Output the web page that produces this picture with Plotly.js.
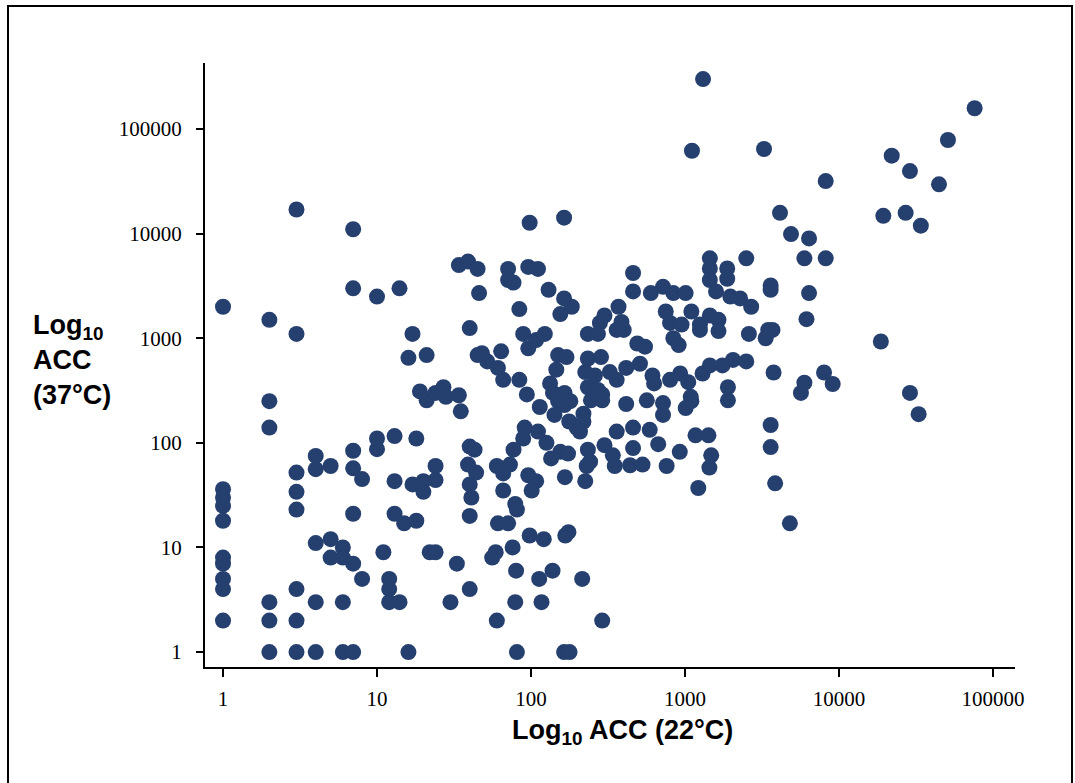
<!DOCTYPE html>
<html>
<head>
<meta charset="utf-8">
<script src="https://cdn.plot.ly/plotly-3.0.1.min.js"></script>
<style>
  html, body { margin: 0; padding: 0; background: #fff; }
  #chart { width: 1075px; height: 783px; }
</style>
</head>
<body>
<div id="chart"></div>
<script>
// ACC at 22°C (x) and 37°C (y)
const acc22 = [
  // x = 1 .. 3 columns
  1,1,1,1,1,1,1,1,1,1,
  2,2,2,2,2,2,
  3,3,3,3,3,3,3,3,
  // low left cluster
  4,4,4,4,4,5,5,5,6,6,6,6,7,7,7,7,7,7,8,8,
  10,10,14,13,17,20,20,24,24,39,40,41,40,44,
  13,15,18,11,22,24,33,12,12,12,14,30,40,16,
  // upper-left group
  17,16,21,40,45,19,21,24,27,28,34,35,10,7,13,18,40,43,46,
  34,39,45,
  // core
  71,96,111,71,77,130,164,184,155,84,460,460,600,720,840,1010,1450,1880,1450,1880,
  1590,1970,2280,370,300,387,280,360,400,234,272,750,1100,800,950,1250,1450,1650,1250,1650,
  840,910,490,550,2600,89,108,123,96,48,64,52,61,66,84,150,170,146,133,94,
  114,139,165,150,165,180,142,177,198,219,219,208,234,285,225,260,325,360,415,510,
  234,272,290,245,290,415,565,615,630,720,720,800,930,1050,1090,1100,1010,1300,1450,1750,
  2050,2500,1900,1900,91,111,126,89,360,460,590,670,460,300,340,234,242,155,174,135,
  77,60,73,66,925,1170,1420,1480,440,530,760,350,230,1440,
  // lower core
  96,108,101,66,166,225,1220,79,81,61,71,98,121,167,175,76,56,59,80,113,
  138,215,79,117,60,290,81,164,178,
  // top and right
  98,164,1310,1110,1450,2500,
  76000,51000,3260,22000,28900,44600,8200,4140,19400,27100,34000,4880,6390,5960,8200,
  3600,3600,6390,2690,6150,3470,3700,3340,18700,3760,8000,9100,5960,5660,28900,32900,3600,3600,
  3850,4800
];
const acc37 = [
  2000,36,30,25,18,8,7,5,4,2,
  1500,250,140,3,2,1,
  17000,1100,52,34,23,4,2,1,
  75,56,11,3,1,60,12,8,10,8,3,1,7,1,21,57,84,11000,5,45,
  2500,110,3000,43,40,43,34,44,60,62,40,30,20,52,
  21,17,18,9,9,9,7,5,4,3,3,3,4,1,
  1100,650,690,1250,690,310,255,300,340,275,285,200,87,3000,116,110,92,86,2700,
  5000,5400,4600,
  4600,4800,4600,3600,3400,2900,2400,2000,1700,1900,4200,2800,2700,3100,2700,2700,4650,4650,3600,3700,
  2800,2500,2400,2000,1650,1430,1400,1200,1200,1100,1100,1800,1800,1400,1350,1350,1650,1500,1200,1170,
  1000,860,890,830,1100,1100,960,1100,800,720,750,600,520,400,400,690,660,500,370,290,
  220,300,300,250,230,250,185,160,140,190,160,128,640,660,475,440,475,400,520,570,
  340,320,290,255,255,235,255,440,370,240,185,400,460,380,275,250,215,460,550,550,
  620,600,340,255,140,128,100,110,128,140,133,97,89,95,76,86,66,82,79,71,
  86,60,62,51,82,118,118,76,61,62,60,60,60,58,
  49,43,35,35,47,43,37,26,23,17,17,13,12,13,14,10,8,9,6,5,
  6,5,3,3,2,2,1,1,1,
  12700,14200,300000,62000,5800,5800,
  158000,78500,64400,55600,39600,29600,31800,15800,14800,15800,11900,9900,9000,5800,5800,
  3200,2900,2700,2000,1520,1200,1200,1000,930,470,470,365,375,300,300,188,148,91,
  41,17
];
const tickVals = [1, 10, 100, 1000, 10000, 100000];
const tickText = ["1", "10", "100", "1000", "10000", "100000"];
const yTickVals = [1, 10, 100, 1000, 10000, 100000];
const yTickText = ["1", "10", "100", "1000", "10000", "100000"];

const trace = {
  x: acc22,
  y: acc37,
  type: 'scatter',
  mode: 'markers',
  marker: { size: 16, color: '#253f6e', line: { width: 0 } },
  hoverinfo: 'x+y'
};

// plot area: left 205, right 1015, top 63, bottom 667
const L = 205, R = 1015, T = 63, B = 667;
const px = v => (v - L) / (R - L);
const py = v => (B - v) / (B - T);

const tickFont = { family: 'Liberation Serif, Times New Roman, serif', size: 21, color: '#000' };

const layout = {
  width: 1075, height: 783,
  margin: { l: L, r: 1075 - R, t: T, b: 783 - B, pad: 0 },
  paper_bgcolor: '#fff', plot_bgcolor: '#fff',
  showlegend: false,
  xaxis: {
    type: 'log', range: [-0.117, 5.143],
    tickmode: 'array', tickvals: tickVals, ticktext: tickText,
    showline: true, linecolor: '#000', linewidth: 2,
    ticks: 'outside', ticklen: 8, tickwidth: 2, tickcolor: '#000',
    showgrid: false, zeroline: false, tickfont: tickFont,
    ticklabelstandoff: 4
  },
  yaxis: {
    type: 'log', range: [-0.143, 5.631],
    tickmode: 'array', tickvals: yTickVals, ticktext: yTickText,
    showline: true, linecolor: '#000', linewidth: 2,
    ticks: 'outside', ticklen: 7, tickwidth: 2, tickcolor: '#000',
    showgrid: false, zeroline: false, tickfont: tickFont,
    ticklabelstandoff: 10
  },
  annotations: [
    {
      xref: 'paper', yref: 'paper', x: px(622), y: py(732),
      xanchor: 'center', yanchor: 'middle', showarrow: false,
      text: '<b>Log<sub>10</sub> ACC (22°C)</b>',
      font: { family: 'Liberation Sans, Arial, sans-serif', size: 27, color: '#000' }
    },
    {
      xref: 'paper', yref: 'paper', x: px(31), y: py(360),
      xanchor: 'left', yanchor: 'middle', align: 'left', showarrow: false,
      text: '<b>Log<sub>10</sub></b><br><b>ACC</b><br><b>(37°C)</b>',
      font: { family: 'Liberation Sans, Arial, sans-serif', size: 27, color: '#000' }
    }
  ],
  shapes: [
    {
      type: 'path', xref: 'paper', yref: 'paper',
      path: 'M ' + px(8) + ' ' + py(800) + ' L ' + px(8) + ' ' + py(6) +
            ' L ' + px(1072) + ' ' + py(6) + ' L ' + px(1072) + ' ' + py(800),
      line: { color: '#000', width: 2 }
    }
  ]
};

Plotly.newPlot('chart', [trace], layout, { staticPlot: true, displayModeBar: false });
</script>
</body>
</html>
